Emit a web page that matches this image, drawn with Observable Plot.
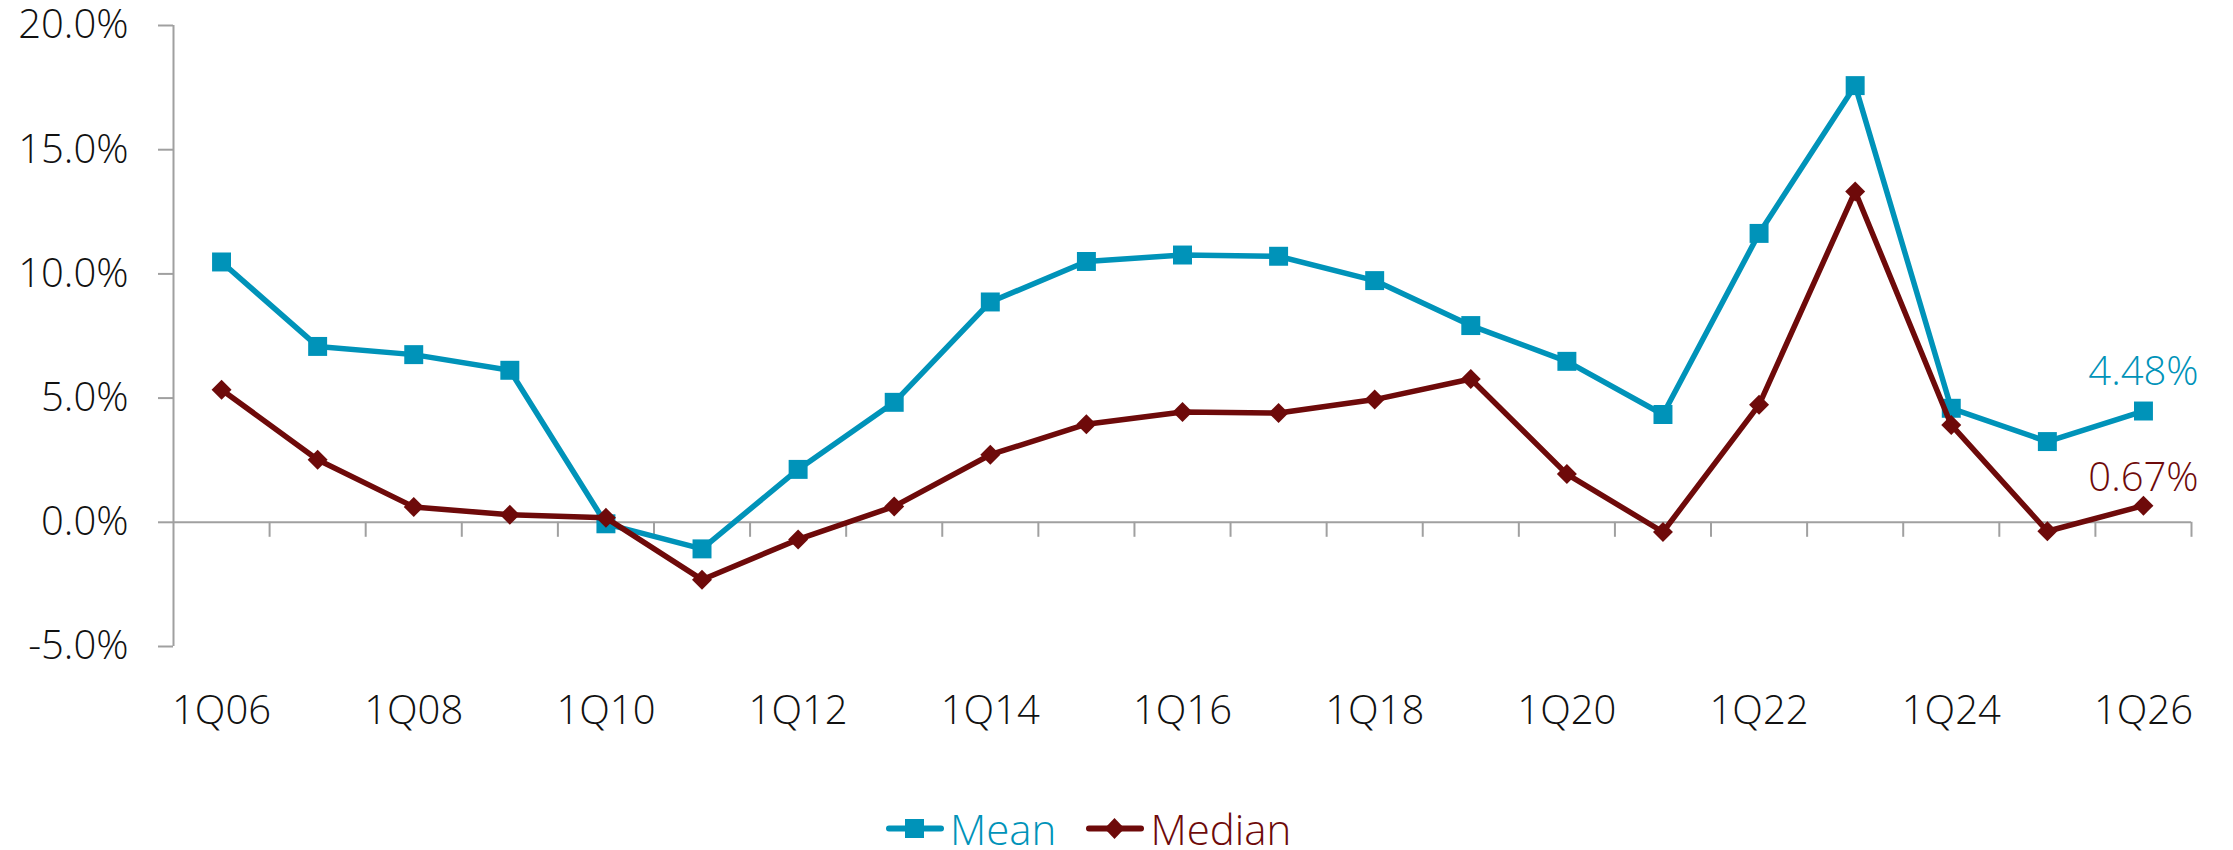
<!DOCTYPE html>
<html>
<head>
<meta charset="utf-8">
<script src="https://cdn.jsdelivr.net/npm/d3@7"></script>
<script src="https://cdn.jsdelivr.net/npm/@observablehq/plot@0.6"></script>
<style>
  html, body { margin: 0; padding: 0; background: #fff; }
  body { width: 2233px; height: 850px; overflow: hidden; font-family: "Open Sans", sans-serif; }
  #legend { display: flex; align-items: center; height: 40px; margin-top: 49px; margin-left: 886px; font-size: 42px; font-weight: 350; line-height: 40px; }
  #legend .item { display: flex; align-items: center; margin-right: 30px; }
  #legend svg { display: block; margin-right: 6px; }
</style>
</head>
<body>
<div id="chart"></div>
<div id="legend"></div>
<script>
const quarters = ["1Q06","1Q07","1Q08","1Q09","1Q10","1Q11","1Q12","1Q13","1Q14","1Q15","1Q16","1Q17","1Q18","1Q19","1Q20","1Q21","1Q22","1Q23","1Q24","1Q25","1Q26"];
const meanVals = [10.48, 7.08, 6.75, 6.12, -0.06, -1.07, 2.13, 4.83, 8.87, 10.50, 10.76, 10.71, 9.73, 7.92, 6.48, 4.34, 11.63, 17.58, 4.59, 3.25, 4.48];
const medianVals = [5.34, 2.52, 0.62, 0.30, 0.18, -2.31, -0.69, 0.64, 2.72, 3.95, 4.44, 4.40, 4.94, 5.77, 1.94, -0.39, 4.73, 13.32, 3.92, -0.36, 0.67];
const yTicks = [-5, 0, 5, 10, 15, 20];
const xLabelEvery = 2;
const seriesNames = ["Mean", "Median"];
const meanColor = "#0093b9";
const medianColor = "#6e0a0a";
const axisColor = "#a0a0a0";

const meanData = quarters.map((q, i) => ({i, q, v: meanVals[i]}));
const medianData = quarters.map((q, i) => ({i, q, v: medianVals[i]}));
const lastIdx = quarters.length - 1;
const bounds = d3.range(0, quarters.length).map(i => i + 0.5);
const xLabelIdx = d3.range(0, quarters.length, xLabelEvery);

const chart = Plot.plot({
  width: 2233,
  height: 760,
  marginLeft: 173,
  marginRight: 42,
  marginTop: 25,
  marginBottom: 114,
  style: {fontSize: "40px", fontFamily: "'Open Sans', sans-serif", fontWeight: 350, color: "#111", background: "white"},
  x: {type: "linear", domain: [-0.5, quarters.length - 0.5]},
  y: {domain: [-5, 20]},
  marks: [
    Plot.ruleY([0], {stroke: axisColor, strokeWidth: 2}),
    Plot.ruleX([-0.5], {stroke: axisColor, strokeWidth: 2}),
    Plot.ruleX(bounds, {y1: 0, y2: 0, insetBottom: -15, stroke: axisColor, strokeWidth: 2}),
    Plot.axisY({ticks: yTicks, tickSize: 15, tickPadding: 30, tickFormat: d => d.toFixed(1) + "%", stroke: axisColor, strokeWidth: 2, fill: "#111", label: null}),
    Plot.axisX({ticks: xLabelIdx, tickSize: 0, tickPadding: 49, tickFormat: i => quarters[i], fill: "#111", label: null}),
    Plot.line(meanData, {x: "i", y: "v", stroke: meanColor, strokeWidth: 5.5, strokeLinejoin: "round"}),
    Plot.dot(meanData, {x: "i", y: "v", symbol: "square", r: 10.7, fill: meanColor, stroke: null}),
    Plot.line(medianData, {x: "i", y: "v", stroke: medianColor, strokeWidth: 5.5, strokeLinejoin: "round"}),
    Plot.dot(medianData, {x: "i", y: "v", symbol: "diamond2", r: 9, fill: medianColor, stroke: null}),
    Plot.text([meanData[lastIdx]], {x: "i", y: "v", text: d => d.v.toFixed(2) + "%", fill: meanColor, lineAnchor: "bottom", dy: -26, textAnchor: "middle"}),
    Plot.text([medianData[lastIdx]], {x: "i", y: "v", text: d => d.v.toFixed(2) + "%", fill: medianColor, lineAnchor: "bottom", dy: -15, textAnchor: "middle"})
  ]
});
document.getElementById("chart").appendChild(chart);

// Legend
const legend = document.getElementById("legend");
const sw = [
  {name: seriesNames[0], color: meanColor, shape: "square"},
  {name: seriesNames[1], color: medianColor, shape: "diamond"}
];
for (const s of sw) {
  const item = document.createElement("div");
  item.className = "item";
  const marker = s.shape === "square"
    ? `<rect x="19" y="10" width="19" height="19" fill="${s.color}"/>`
    : `<path d="M28.5 9 L38.5 19.5 L28.5 30 L18.5 19.5 Z" fill="${s.color}"/>`;
  item.innerHTML = `<svg width="58" height="40" viewBox="0 0 58 40"><line x1="3" y1="19.5" x2="55" y2="19.5" stroke="${s.color}" stroke-width="6" stroke-linecap="round"/>${marker}</svg><span style="color:${s.color}">${s.name}</span>`;
  legend.appendChild(item);
}
</script>
</body>
</html>
